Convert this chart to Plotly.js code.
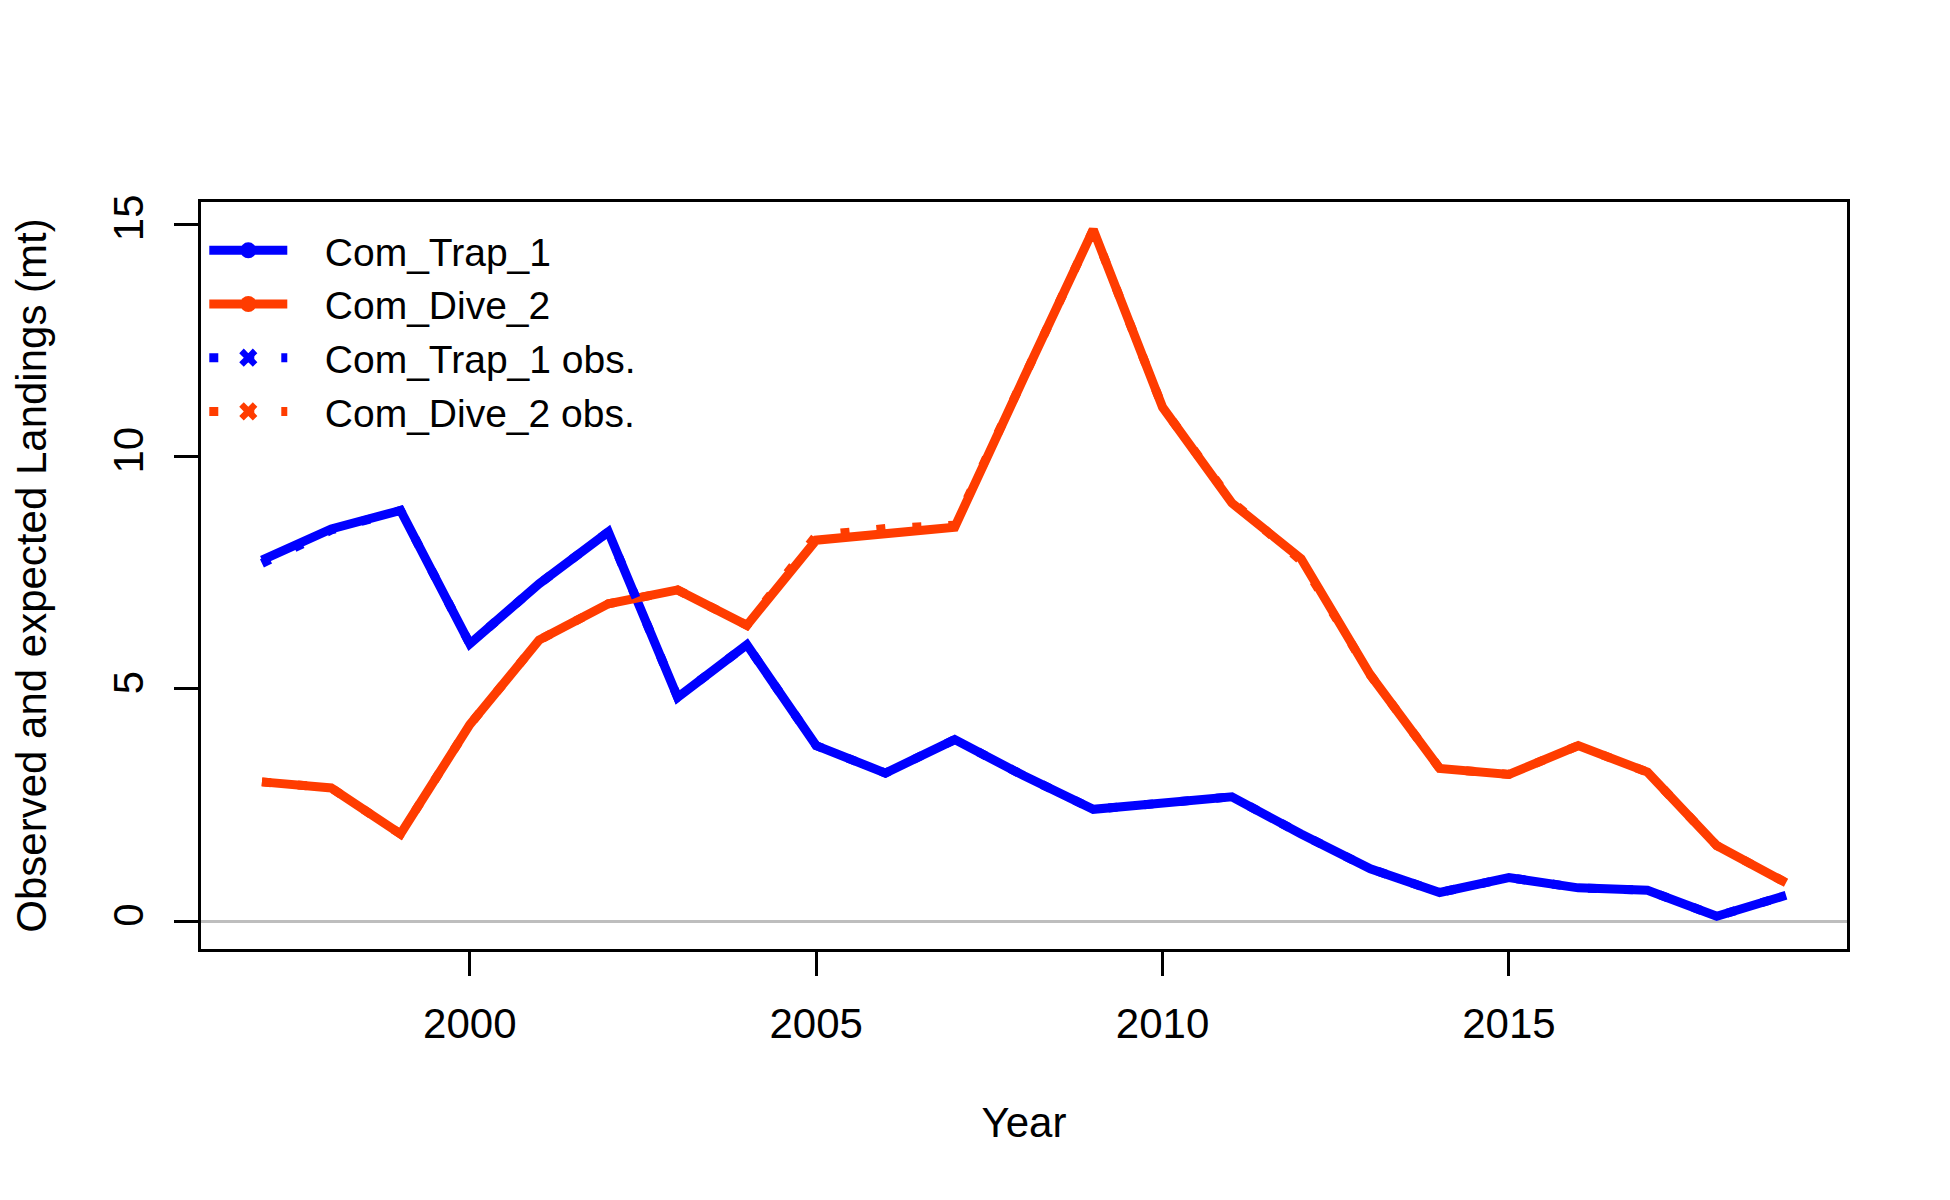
<!DOCTYPE html>
<html>
<head>
<meta charset="utf-8">
<script src="https://cdn.plot.ly/plotly-3.0.1.min.js"></script>
<style>html,body{margin:0;padding:0;background:#fff;}#chart{width:1950px;height:1200px;}</style>
</head>
<body>
<div id="chart"></div>
<script>
// ---- data ----
const years = [1997,1998,1999,2000,2001,2002,2003,2004,2005,2006,2007,2008,2009,2010,2011,2012,2013,2014,2015,2016,2017,2018,2019];
const trapExpected = [7.77,8.44,8.84,5.97,7.26,8.38,4.82,5.95,3.78,3.19,3.91,3.13,2.41,2.55,2.68,1.88,1.13,0.62,0.94,0.72,0.67,0.11,0.56];
const trapObserved = [7.70,8.42,8.84,5.97,7.26,8.38,4.82,5.95,3.78,3.19,3.91,3.13,2.41,2.55,2.68,1.88,1.13,0.62,0.94,0.72,0.67,0.11,0.56];
const diveExpected = [3.00,2.87,1.88,4.23,6.05,6.83,7.13,6.37,8.20,8.35,8.48,11.70,14.88,11.06,9.00,7.80,5.30,3.29,3.16,3.78,3.21,1.63,0.83];
const diveObserved = [3.00,2.87,1.88,4.23,6.05,6.83,7.13,6.37,8.30,8.45,8.52,11.70,14.88,11.06,9.03,7.76,5.30,3.29,3.16,3.78,3.21,1.63,0.83];
const seriesNames = ["Com_Trap_1","Com_Dive_2","Com_Trap_1 obs.","Com_Dive_2 obs."];
const xTicks = [2000,2005,2010,2015];
const yTicks = [0,5,10,15];

const BLUE = "#0000FF";
const RED = "#FF3C00";
const FONT = "Liberation Sans, Arial, sans-serif";
const LW = 9;
const DOT = "9px,27px";
const PAD = "\u00A0\u00A0\u00A0";

const traces = [
  {x: years, y: trapExpected, mode: "lines", line: {color: BLUE, width: LW}, showlegend: false},
  {x: years, y: diveExpected, mode: "lines", line: {color: RED, width: LW}, showlegend: false},
  {x: years, y: trapObserved, mode: "lines", line: {color: BLUE, width: LW, dash: DOT}, showlegend: false},
  {x: years, y: diveObserved, mode: "lines", line: {color: RED, width: LW, dash: DOT}, showlegend: false},
  // legend entries
  {x: [null], y: [null], name: PAD + seriesNames[0], mode: "lines+markers", line: {color: BLUE, width: LW}, marker: {symbol: "circle", size: 22, color: BLUE}},
  {x: [null], y: [null], name: PAD + seriesNames[1], mode: "lines+markers", line: {color: RED, width: LW}, marker: {symbol: "circle", size: 22, color: RED}},
  {x: [null], y: [null], name: PAD + seriesNames[2], mode: "lines+markers", line: {color: BLUE, width: LW, dash: DOT}, marker: {symbol: "x", size: 22, color: BLUE}},
  {x: [null], y: [null], name: PAD + seriesNames[3], mode: "lines+markers", line: {color: RED, width: LW, dash: DOT}, marker: {symbol: "x", size: 22, color: RED}}
];

const layout = {
  width: 1950, height: 1200,
  paper_bgcolor: "#fff", plot_bgcolor: "#fff",
  margin: {l: 201, r: 103, t: 202, b: 251, pad: 0},
  font: {family: FONT, size: 42, color: "#000"},
  showlegend: true,
  legend: {x: 0.002, y: 0.978, xanchor: "left", yanchor: "top", bgcolor: "rgba(0,0,0,0)", borderwidth: 0,
           font: {family: FONT, size: 39, color: "#000"}, itemwidth: 78, tracegroupgap: 0},
  xaxis: {
    range: [1996.12, 2019.88], tickvals: xTicks, ticktext: xTicks.map(String),
    showgrid: false, zeroline: false,
    showline: true, mirror: true, linecolor: "#000", linewidth: 3,
    ticks: "outside", ticklen: 24, tickwidth: 3, tickcolor: "#000",
    tickfont: {family: FONT, size: 42, color: "#000"}, ticklabelstandoff: 12,
    title: {text: "Year", font: {family: FONT, size: 42, color: "#000"}, standoff: 62}
  },
  yaxis: {
    range: [-0.595, 15.475], tickvals: yTicks, ticktext: yTicks.map(String),
    showgrid: false, zeroline: true, zerolinecolor: "#BEBEBE", zerolinewidth: 3,
    showline: true, mirror: true, linecolor: "#000", linewidth: 3,
    ticks: "outside", ticklen: 24, tickwidth: 3, tickcolor: "#000",
    tickangle: -90, tickfont: {family: FONT, size: 42, color: "#000"}, ticklabelstandoff: 14,
    title: {text: "Observed and expected Landings (mt)", font: {family: FONT, size: 42, color: "#000"}, standoff: 46}
  }
};

Plotly.newPlot("chart", traces, layout, {displayModeBar: false, staticPlot: true});
</script>
</body>
</html>
